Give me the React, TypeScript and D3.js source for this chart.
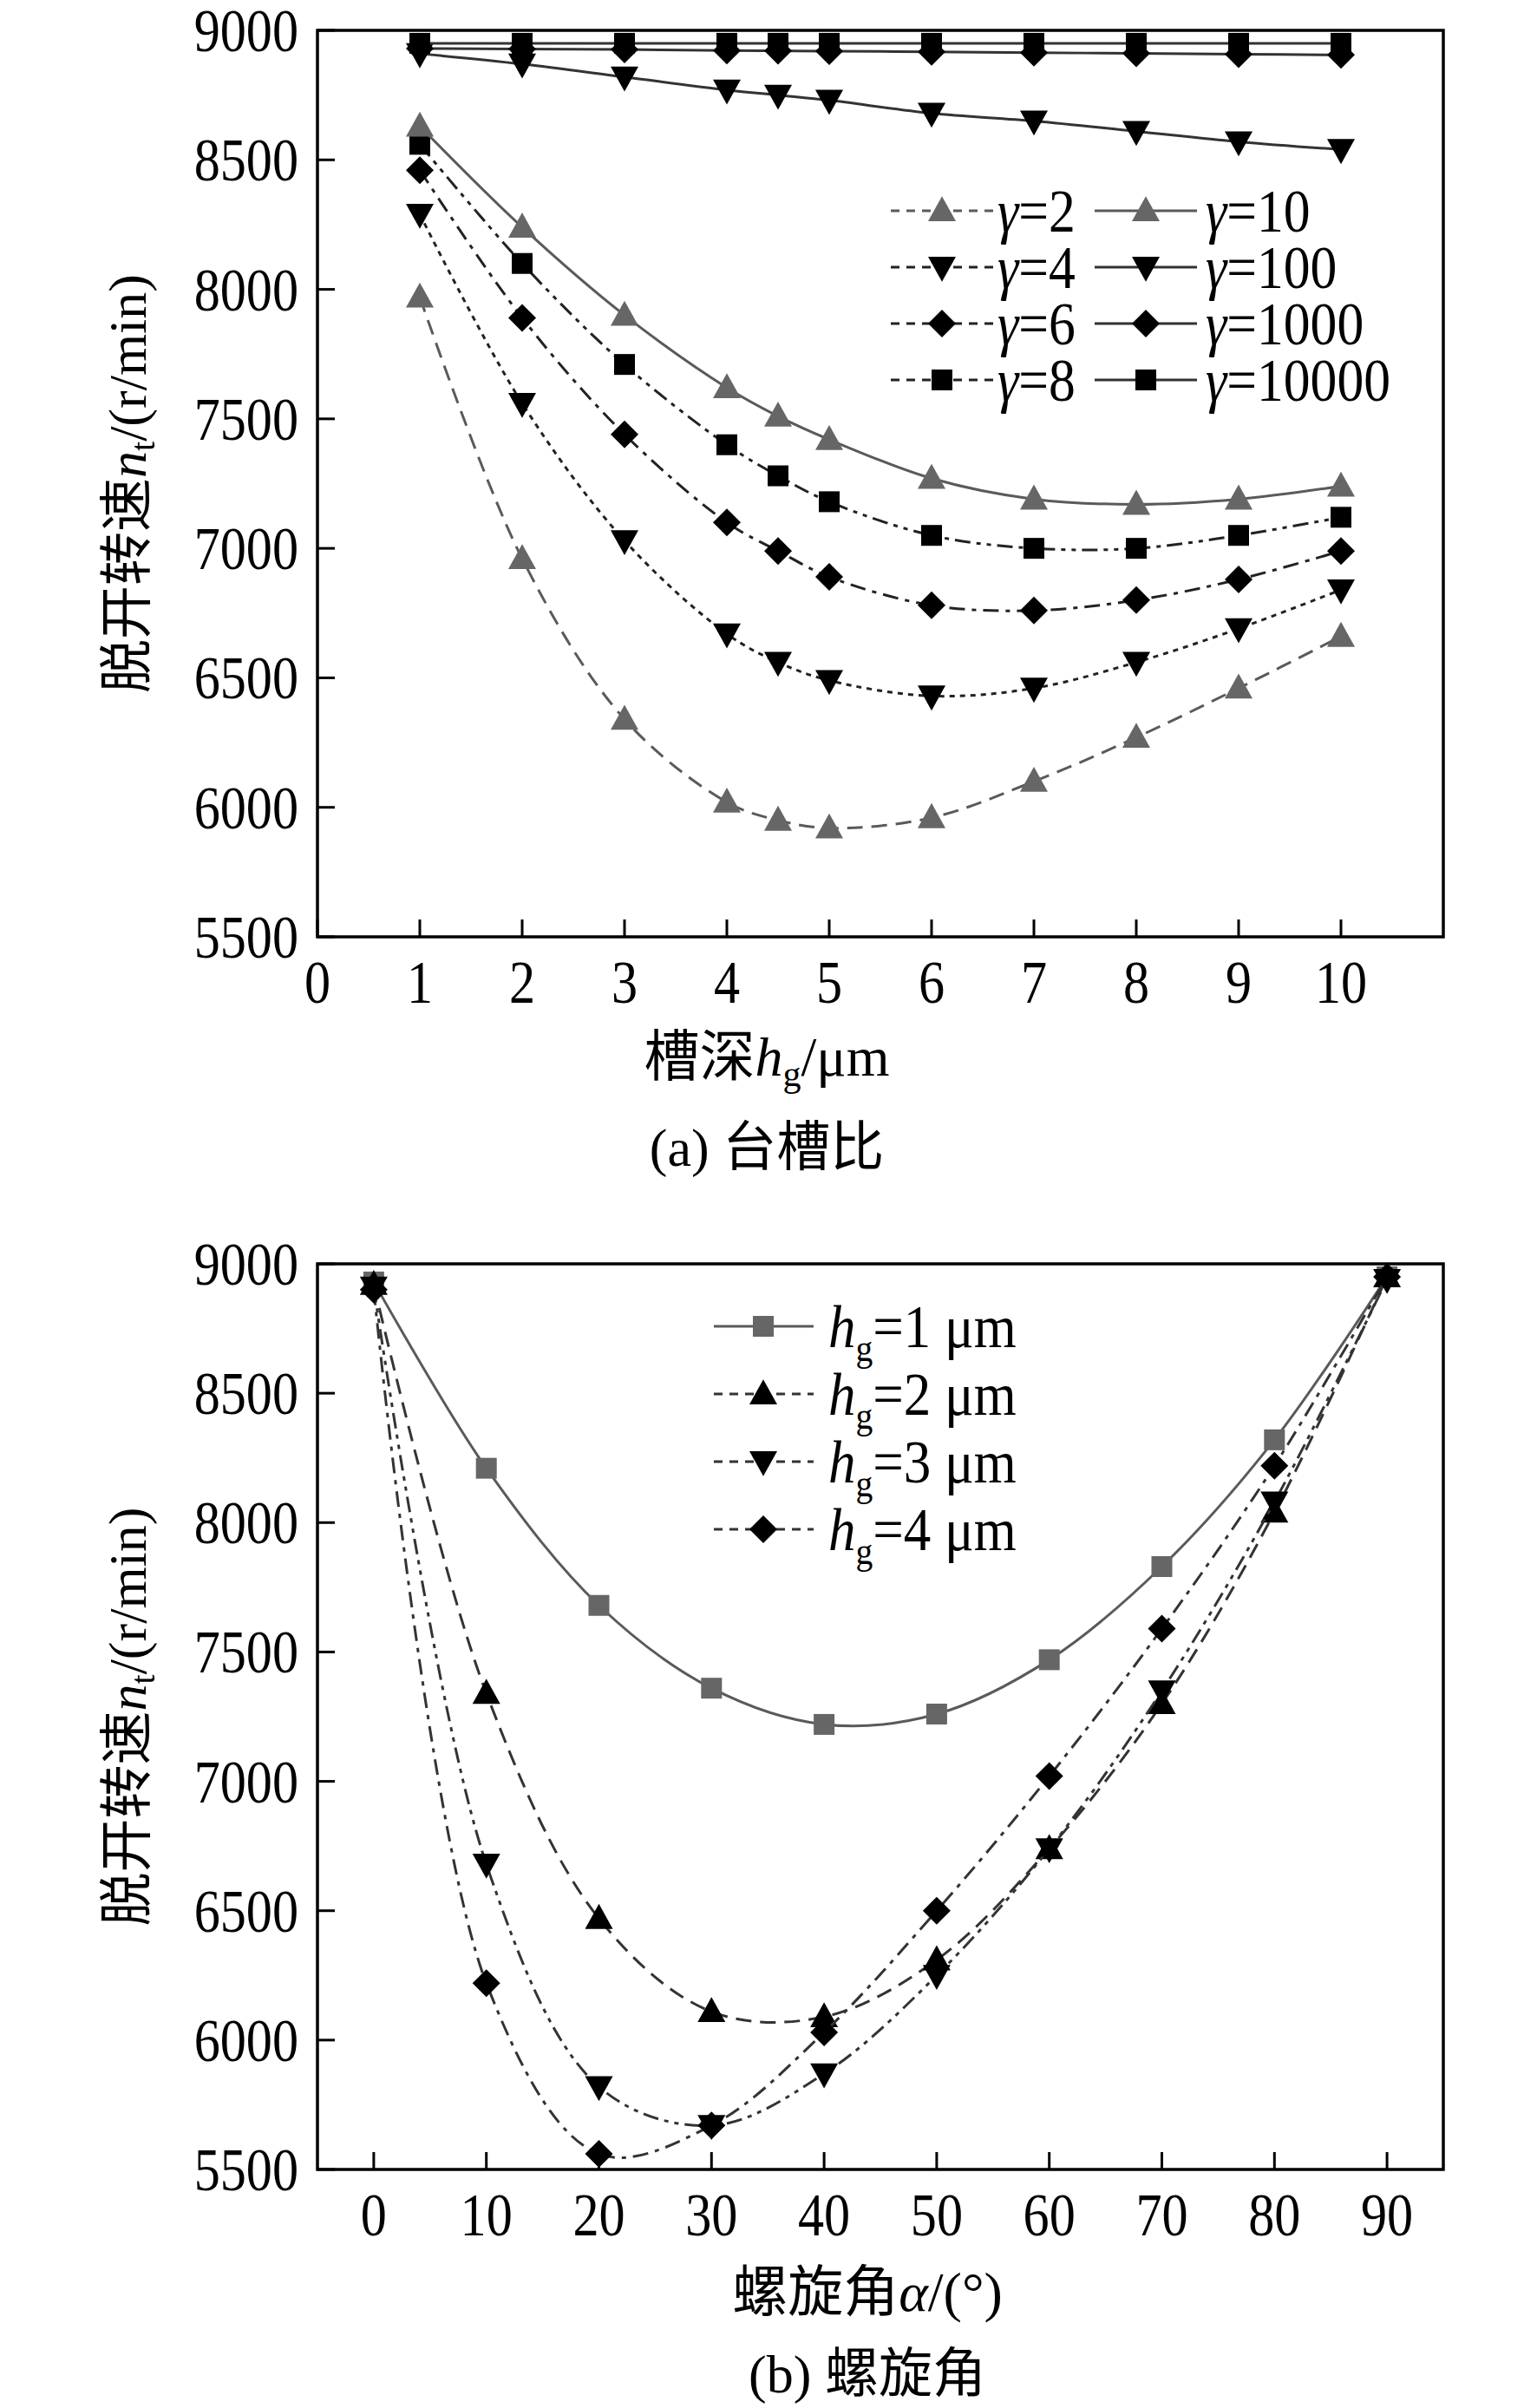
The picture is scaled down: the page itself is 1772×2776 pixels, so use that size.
import React from "react";
import * as d3 from "d3";

const xA = [1, 2, 3, 4, 4.5, 5, 6, 7, 8, 9, 10];
const g2 = [7970, 6960, 6340, 6020, 5950, 5920, 5960, 6100, 6270, 6460, 6660];
const g4 = [8290, 7560, 7030, 6670, 6560, 6490, 6430, 6460, 6560, 6690, 6840];
const g6 = [8460, 7890, 7440, 7100, 6990, 6890, 6780, 6760, 6800, 6880, 6990];
const g8 = [8560, 8100, 7710, 7400, 7280, 7180, 7050, 7000, 7000, 7050, 7120];
const g10 = [8630, 8240, 7900, 7620, 7510, 7420, 7270, 7190, 7170, 7190, 7240];
const g100 = [8910, 8870, 8820, 8770, 8750, 8730, 8680, 8650, 8610, 8570, 8540];
const g1000 = [8930, 8928, 8926, 8922, 8921, 8920, 8917, 8914, 8911, 8908, 8905];
const g10000 = [8950, 8950, 8950, 8950, 8950, 8950, 8950, 8950, 8950, 8950, 8950];
const xTicksA = [0, 1, 2, 3, 4, 5, 6, 7, 8, 9, 10];

const xB = [0, 10, 20, 30, 40, 50, 60, 70, 80, 90];
const h1 = [8930, 8210, 7680, 7360, 7220, 7260, 7470, 7830, 8320, 8950];
const h2 = [8920, 7340, 6470, 6110, 6090, 6310, 6740, 7300, 8040, 8950];
const h3 = [8910, 6680, 5820, 5670, 5870, 6250, 6740, 7350, 8080, 8940];
const h4 = [8900, 6220, 5560, 5670, 6030, 6500, 7020, 7590, 8220, 8950];
const xTicksB = [0, 10, 20, 30, 40, 50, 60, 70, 80, 90];
const yTicks = [5500, 6000, 6500, 7000, 7500, 8000, 8500, 9000];

const GRAY = "#5a5a5a";
const GRAYM = "#666666";
const SERIF = "Liberation Serif, Times New Roman, serif";
const CJK = "Noto Sans CJK SC, sans-serif";

type Ser = { name: string; ys: number[]; marker: string; color: string; mcolor: string; dash: string };

const seriesA: Ser[] = [
  { name: "2", ys: g2, marker: "tri", color: GRAY, mcolor: GRAYM, dash: "18,10" },
  { name: "4", ys: g4, marker: "dtri", color: "#222", mcolor: "#000", dash: "6,6" },
  { name: "6", ys: g6, marker: "dia", color: "#222", mcolor: "#000", dash: "18,8,5,8" },
  { name: "8", ys: g8, marker: "sq", color: "#222", mcolor: "#000", dash: "18,7,5,7,5,7" },
  { name: "10", ys: g10, marker: "tri", color: GRAY, mcolor: GRAYM, dash: "" },
  { name: "100", ys: g100, marker: "dtri", color: "#333", mcolor: "#000", dash: "" },
  { name: "1000", ys: g1000, marker: "dia", color: "#333", mcolor: "#000", dash: "" },
  { name: "10000", ys: g10000, marker: "sq", color: "#333", mcolor: "#000", dash: "" },
];
const seriesB: Ser[] = [
  { name: "1", ys: h1, marker: "sq", color: GRAY, mcolor: GRAYM, dash: "" },
  { name: "2", ys: h2, marker: "tri", color: "#333", mcolor: "#000", dash: "18,10" },
  { name: "3", ys: h3, marker: "dtri", color: "#333", mcolor: "#000", dash: "18,7,5,7,5,7" },
  { name: "4", ys: h4, marker: "dia", color: "#333", mcolor: "#000", dash: "18,8,5,8" },
];

function Marker({ type, x, y, color }: { type: string; x: number; y: number; color: string }) {
  const s = 16;
  if (type === "tri") return <path d={`M${x},${y - s * 1.05} L${x + s},${y + s * 0.75} L${x - s},${y + s * 0.75}Z`} fill={color} />;
  if (type === "dtri") return <path d={`M${x},${y + s * 1.05} L${x + s},${y - s * 0.75} L${x - s},${y - s * 0.75}Z`} fill={color} />;
  if (type === "dia") return <path d={`M${x},${y - s} L${x + s},${y} L${x},${y + s} L${x - s},${y}Z`} fill={color} />;
  return <rect x={x - 12} y={y - 12} width={24} height={24} fill={color} />;
}

function Num({ x, y, anchor, children }: any) {
  return (
    <g transform={`translate(${x},${y}) scale(0.86,1)`}>
      <text x={0} y={0} textAnchor={anchor} fontFamily={SERIF} fontSize={70}>{children}</text>
    </g>
  );
}

function Panel({ xs, series, xDomain, xTicks, top, bottom }: any) {
  const left = 366, right = 1664;
  const x = d3.scaleLinear().domain(xDomain).range([left, right]);
  const y = d3.scaleLinear().domain([5500, 9000]).range([bottom, top]);
  const line = d3.line<number>().x((_, i) => x(xs[i])).y((v) => y(v)).curve(d3.curveCatmullRom.alpha(0.5));
  return (
    <g>
      {series.map((s: Ser, k: number) => (
        <g key={k}>
          <path d={line(s.ys) || ""} fill="none" stroke={s.color} strokeWidth={3} strokeDasharray={s.dash} />
          {s.ys.map((v, i) => <Marker key={i} type={s.marker} x={x(xs[i])} y={y(v)} color={s.mcolor} />)}
        </g>
      ))}
      <rect x={left} y={top} width={right - left} height={bottom - top} fill="none" stroke="#000" strokeWidth={3.5} />
      {yTicks.map((t) => (
        <g key={t}>
          <line x1={left} x2={left + 20} y1={y(t)} y2={y(t)} stroke="#000" strokeWidth={3} />
          <Num x={left - 22} y={y(t) + 24} anchor="end">{t}</Num>
        </g>
      ))}
      {xTicks.map((t: number) => (
        <g key={t}>
          <line x1={x(t)} x2={x(t)} y1={bottom} y2={bottom - 20} stroke="#000" strokeWidth={3} />
          <Num x={x(t)} y={bottom + 76} anchor="middle">{t}</Num>
        </g>
      ))}
      <text transform={`translate(168,${(top + bottom) / 2}) rotate(-90)`} textAnchor="middle" fontSize={62}>
        <tspan fontFamily={CJK}>脱开转速</tspan>
        <tspan fontFamily={SERIF} fontStyle="italic">n</tspan>
        <tspan fontFamily={SERIF} fontSize={40} dy={10}>t</tspan>
        <tspan fontFamily={SERIF} dy={-10}>/(r/min)</tspan>
      </text>
    </g>
  );
}

export default function App() {
  const legA = [0, 1, 2, 3, 4, 5, 6, 7].map((i) => ({
    s: seriesA[i],
    lx: i < 4 ? 1027 : 1262,
    tx: i < 4 ? 1150 : 1390,
    row: i % 4,
  }));
  return (
    <div style={{ position: "absolute", left: 0, top: 0 }}>
      <svg width={1772} height={2776} style={{ display: "block", background: "#fff" }}>
        <Panel xs={xA} series={seriesA} xDomain={[0, 11]} xTicks={xTicksA} top={35} bottom={1080} />
        {legA.map((l, i) => {
          const yy = 243 + l.row * 65;
          return (
            <g key={i}>
              <line x1={l.lx} x2={l.lx + 118} y1={yy} y2={yy} stroke={l.s.color} strokeWidth={3} strokeDasharray={l.s.dash ? "10,8" : ""} />
              <Marker type={l.s.marker} x={l.lx + 59} y={yy} color={l.s.mcolor} />
              <g transform={`translate(${l.tx},${yy + 24}) scale(0.88,1)`}>
                <text fontFamily={SERIF} fontSize={70}>
                  <tspan fontStyle="italic">γ</tspan>={l.s.name}
                </text>
              </g>
            </g>
          );
        })}
        <text x={884} y={1240} textAnchor="middle" fontSize={64}>
          <tspan fontFamily={CJK}>槽深</tspan>
          <tspan fontFamily={SERIF} fontStyle="italic">h</tspan>
          <tspan fontFamily={SERIF} fontSize={42} dy={12}>g</tspan>
          <tspan fontFamily={SERIF} dy={-12}>/μm</tspan>
        </text>
        <text x={884} y={1344} textAnchor="middle" fontSize={62}>
          <tspan fontFamily={SERIF}>(a) </tspan>
          <tspan fontFamily={CJK}>台槽比</tspan>
        </text>

        <Panel xs={xB} series={seriesB} xDomain={[-5, 95]} xTicks={xTicksB} top={1457} bottom={2501} />
        {seriesB.map((s, i) => {
          const yy = 1529 + i * 78;
          return (
            <g key={i}>
              <line x1={823} x2={938} y1={yy} y2={yy} stroke={s.color} strokeWidth={3} strokeDasharray={s.dash ? "10,8" : ""} />
              <Marker type={s.marker} x={880} y={yy} color={s.mcolor} />
              <g transform={`translate(955,${yy + 24}) scale(0.9,1)`}>
                <text fontFamily={SERIF} fontSize={70}>
                  <tspan fontStyle="italic">h</tspan>
                  <tspan fontSize={44} dy={16}>g</tspan>
                  <tspan dy={-16}>={s.name} μm</tspan>
                </text>
              </g>
            </g>
          );
        })}
        <text x={1000} y={2664} textAnchor="middle" fontSize={64}>
          <tspan fontFamily={CJK}>螺旋角</tspan>
          <tspan fontFamily={SERIF} fontStyle="italic">α</tspan>
          <tspan fontFamily={SERIF}>/(°)</tspan>
        </text>
        <text x={1000} y={2758} textAnchor="middle" fontSize={62}>
          <tspan fontFamily={SERIF}>(b) </tspan>
          <tspan fontFamily={CJK}>螺旋角</tspan>
        </text>
      </svg>
    </div>
  );
}
